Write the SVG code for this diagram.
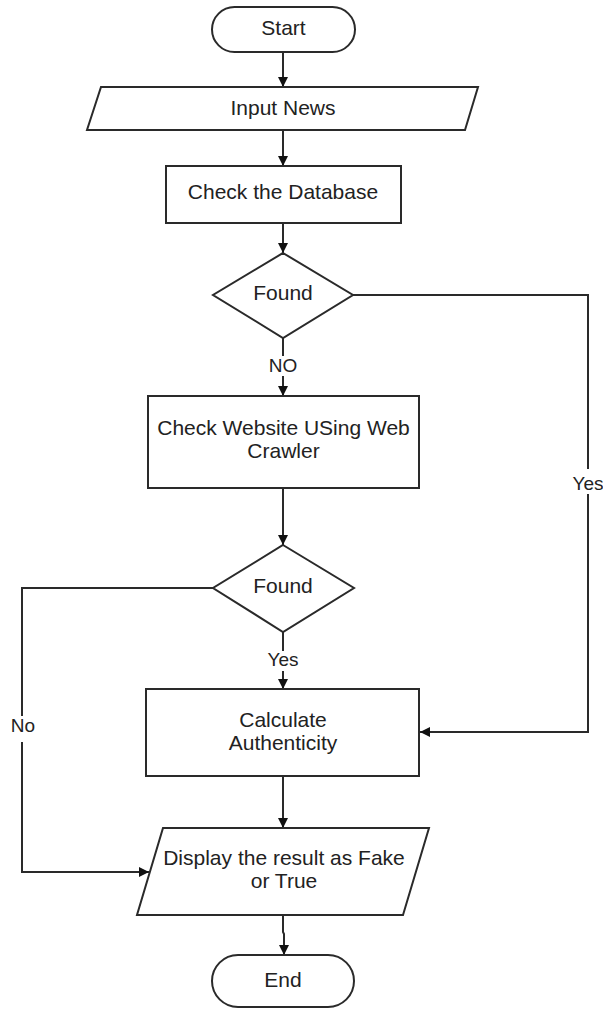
<svg xmlns="http://www.w3.org/2000/svg" width="603" height="1009" viewBox="0 0 603 1009">
<style>
.shape{fill:#fff;stroke:#2a2a2a;stroke-width:2}
.t{font-family:"Liberation Sans",Arial,sans-serif;font-size:21px;fill:#222;text-anchor:middle}
.lbl{font-family:"Liberation Sans",Arial,sans-serif;font-size:19px;fill:#222;text-anchor:middle}
.c{fill:none;stroke:#2a2a2a;stroke-width:2}
.bg{fill:#fff}
</style>
<defs>
<marker id="ah" viewBox="0 0 10 10" refX="10" refY="5" markerWidth="10" markerHeight="10" markerUnits="userSpaceOnUse" orient="auto">
<path d="M0,0 L10,5 L0,10 Z" fill="#111"/>
</marker>
</defs>
<rect width="603" height="1009" fill="#fff"/>
<g id="connectors">
<line class="c" x1="283" y1="52" x2="283" y2="87" marker-end="url(#ah)"/>
<line class="c" x1="283" y1="130" x2="283" y2="166" marker-end="url(#ah)"/>
<line class="c" x1="283" y1="223" x2="283" y2="253" marker-end="url(#ah)"/>
<line class="c" x1="283" y1="338" x2="283" y2="396" marker-end="url(#ah)"/>
<line class="c" x1="283" y1="488" x2="283" y2="545" marker-end="url(#ah)"/>
<line class="c" x1="283" y1="632" x2="283" y2="689" marker-end="url(#ah)"/>
<line class="c" x1="283" y1="776" x2="283" y2="828" marker-end="url(#ah)"/>
<polyline class="c" points="283,915 283,932 284,934 284,955" marker-end="url(#ah)"/>
<polyline class="c" points="353,295 588,295 588,732 420,732" marker-end="url(#ah)"/>
<polyline class="c" points="213,588 22,588 22,872 149,872" marker-end="url(#ah)"/>
<rect class="bg" x="266" y="356" width="34" height="20"/>
<text class="lbl" x="283" y="372">NO</text>
<rect class="bg" x="570" y="469" width="36" height="25"/>
<text class="lbl" x="588" y="490">Yes</text>
<rect class="bg" x="266" y="651" width="34" height="20"/>
<text class="lbl" x="283" y="666">Yes</text>
<rect class="bg" x="8" y="716" width="30" height="26"/>
<text class="lbl" x="23" y="732">No</text>
</g>
<g id="start">
<rect class="shape" x="212" y="7" width="143" height="45" rx="22.5" ry="22.5"/>
<text class="t" x="283.5" y="34.5">Start</text>
</g>
<g id="input-news">
<polygon class="shape" points="101,87 478,87 465,130 87,130"/>
<text class="t" x="283" y="114.5">Input News</text>
</g>
<g id="check-db">
<rect class="shape" x="166" y="166" width="235" height="57"/>
<text class="t" x="283" y="199">Check the Database</text>
</g>
<g id="found1">
<polygon class="shape" points="283,253 353,295 283,338 213,295"/>
<text class="t" x="283" y="299.5">Found</text>
</g>
<g id="check-web">
<rect class="shape" x="148" y="396" width="271" height="92"/>
<text class="t" x="283.5" y="435">Check Website USing Web</text>
<text class="t" x="283.5" y="458">Crawler</text>
</g>
<g id="found2">
<polygon class="shape" points="283,545 354,588 283,632 213,588"/>
<text class="t" x="283" y="593">Found</text>
</g>
<g id="calc">
<rect class="shape" x="146" y="689" width="273" height="87"/>
<text class="t" x="283" y="727">Calculate</text>
<text class="t" x="283" y="749.5">Authenticity</text>
</g>
<g id="display">
<polygon class="shape" points="163,828 429,828 403,915 137,915"/>
<text class="t" x="284" y="865">Display the result as Fake</text>
<text class="t" x="284" y="888">or True</text>
</g>
<g id="end">
<rect class="shape" x="212" y="955" width="142" height="52" rx="26" ry="26"/>
<text class="t" x="283" y="987">End</text>
</g>
</svg>
